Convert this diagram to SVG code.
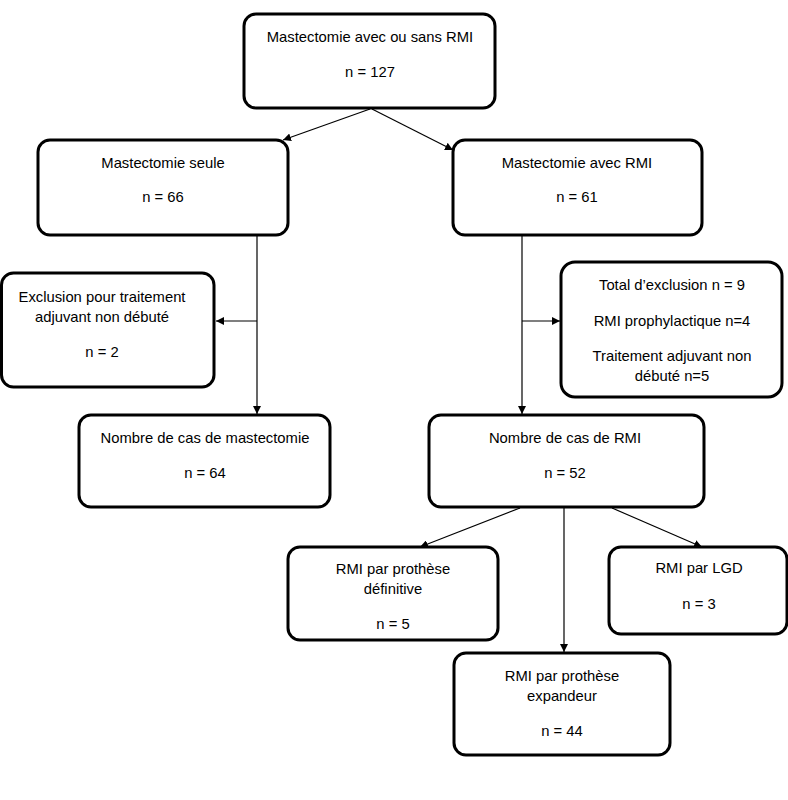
<svg xmlns="http://www.w3.org/2000/svg" width="788" height="800" viewBox="0 0 788 800">
<defs>
<marker id="ah" viewBox="0 0 10 10" refX="10" refY="5" markerWidth="8" markerHeight="8" markerUnits="userSpaceOnUse" orient="auto">
<path d="M0,0 L10,5 L0,10 z" fill="#000"/>
</marker>
<style>
.box{fill:#fff;stroke:#000;stroke-width:3}
.t{font-family:"Liberation Sans",Arial,sans-serif;font-size:14.8px;fill:#000;text-anchor:middle;dominant-baseline:central}
.c{stroke:#000;stroke-width:1.2;fill:none;marker-end:url(#ah)}
</style>
</defs>
<rect width="788" height="800" fill="#fff"/>
<g id="connectors">
<line class="c" x1="370" y1="109" x2="283" y2="140"/>
<line class="c" x1="372" y1="109" x2="453" y2="150"/>
<line class="c" x1="257" y1="235" x2="257" y2="414"/>
<line class="c" x1="257" y1="321" x2="216" y2="321"/>
<line class="c" x1="522" y1="235" x2="522" y2="414"/>
<line class="c" x1="522" y1="321" x2="560" y2="321"/>
<line class="c" x1="520" y1="508" x2="420" y2="547"/>
<line class="c" x1="564" y1="508" x2="564" y2="652"/>
<line class="c" x1="612" y1="508" x2="702" y2="547"/>
</g>
<g id="n-top">
<rect class="box" x="244" y="14" width="251" height="94" rx="12"/>
<text class="t" x="370" y="37">Mastectomie avec ou sans RMI</text>
<text class="t" x="370" y="72">n = 127</text>
</g>
<g id="n-seule">
<rect class="box" x="38" y="140" width="250" height="95" rx="12"/>
<text class="t" x="163" y="163">Mastectomie seule</text>
<text class="t" x="163" y="197">n = 66</text>
</g>
<g id="n-avec">
<rect class="box" x="453" y="140" width="249" height="95" rx="12"/>
<text class="t" x="577" y="163">Mastectomie avec RMI</text>
<text class="t" x="577" y="197">n = 61</text>
</g>
<g id="n-excl-left">
<rect class="box" x="1.5" y="273" width="212.5" height="114" rx="12"/>
<text class="t" x="102" y="297">Exclusion pour traitement</text>
<text class="t" x="102" y="317">adjuvant non débuté</text>
<text class="t" x="102" y="352">n = 2</text>
</g>
<g id="n-excl-right">
<rect class="box" x="561" y="262" width="221" height="135" rx="14"/>
<text class="t" x="672" y="285">Total d’exclusion n = 9</text>
<text class="t" x="672" y="321">RMI prophylactique n=4</text>
<text class="t" x="672" y="356">Traitement adjuvant non</text>
<text class="t" x="672" y="376">débuté n=5</text>
</g>
<g id="n-mast">
<rect class="box" x="79" y="415" width="251" height="92" rx="12"/>
<text class="t" x="205" y="438">Nombre de cas de mastectomie</text>
<text class="t" x="205" y="473">n = 64</text>
</g>
<g id="n-rmi">
<rect class="box" x="429" y="415" width="275" height="92" rx="12"/>
<text class="t" x="565" y="438">Nombre de cas de RMI</text>
<text class="t" x="565" y="473">n = 52</text>
</g>
<g id="n-def">
<rect class="box" x="288" y="547" width="210" height="93" rx="12"/>
<text class="t" x="393" y="569">RMI par prothèse</text>
<text class="t" x="393" y="589">définitive</text>
<text class="t" x="393" y="624">n = 5</text>
</g>
<g id="n-lgd">
<rect class="box" x="609" y="547" width="178" height="87" rx="12"/>
<text class="t" x="699" y="568">RMI par LGD</text>
<text class="t" x="699" y="604">n = 3</text>
</g>
<g id="n-exp">
<rect class="box" x="454" y="653" width="216" height="102" rx="12"/>
<text class="t" x="562" y="676">RMI par prothèse</text>
<text class="t" x="562" y="696">expandeur</text>
<text class="t" x="562" y="731">n = 44</text>
</g>
</svg>
